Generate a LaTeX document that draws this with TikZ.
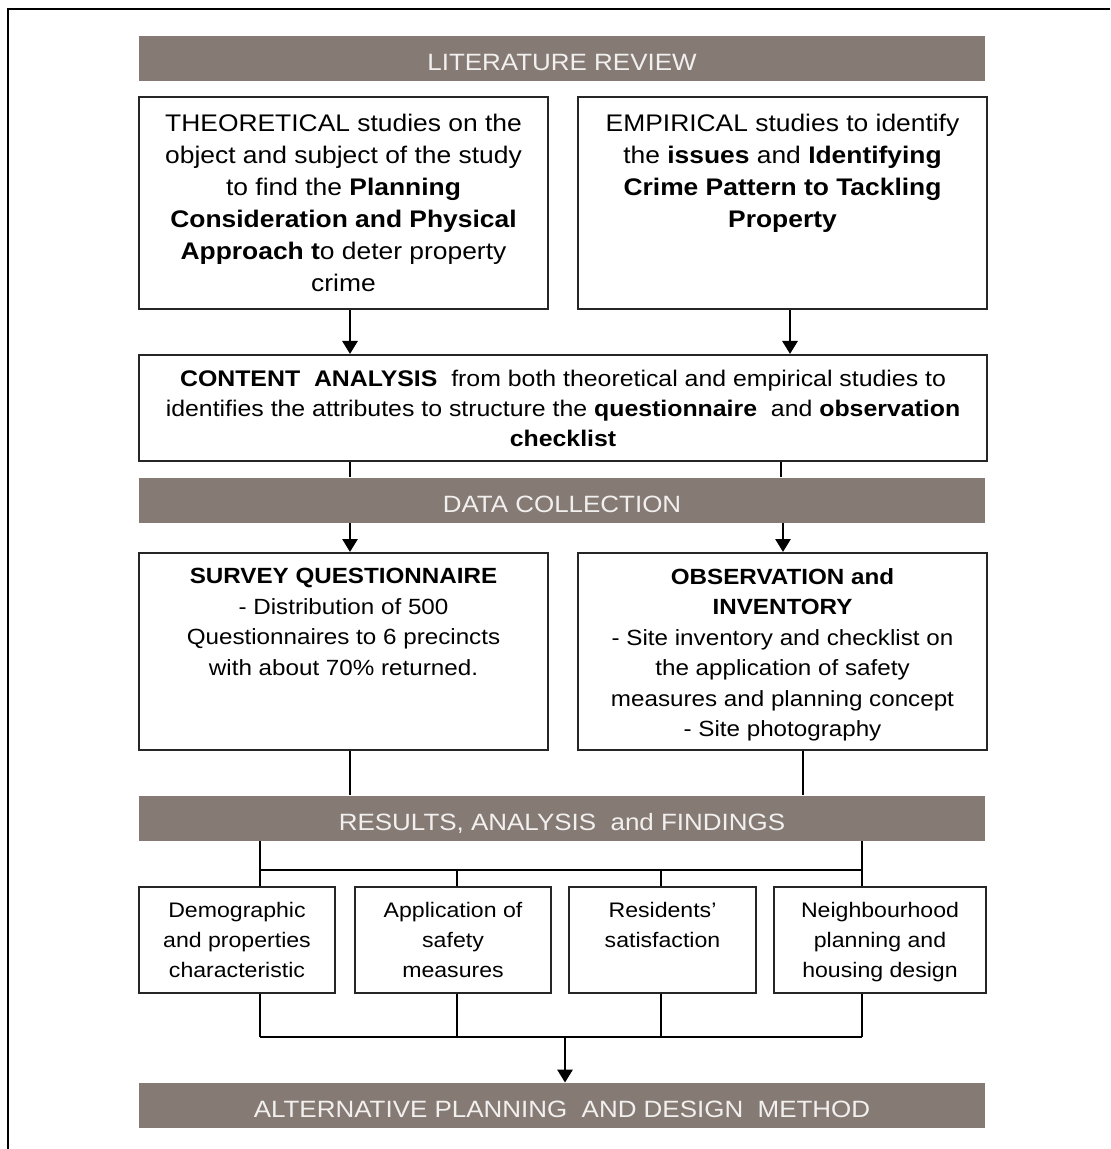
\documentclass[tikz,border=0pt]{standalone}
\usepackage{fontspec}
\setmainfont{Liberation Sans}[FakeStretch=1.1]
\usetikzlibrary{arrows.meta,calc}
\definecolor{bannergray}{HTML}{857A74}
\definecolor{bannertext}{HTML}{F2F0EF}
\newcommand\bigpanel{\fontsize{12}{16}\selectfont}
\newcommand\midpanel{\fontsize{11}{15.25}\selectfont}
\newcommand\smallpanel{\fontsize{10.5}{15}\selectfont}
\tikzset{
  banner/.style={fill=bannergray, text=bannertext, minimum width=423pt, minimum height=22.5pt, inner sep=0pt,
                 text height=12.4pt, text depth=0pt, font=\fontsize{11.8}{14}\selectfont},
  panel/.style={draw=black!85, line width=1pt, inner sep=0pt},
  toptext/.style={anchor=north, align=center, inner sep=0pt, yshift=#1},
  link/.style={line width=1.4pt},
}

\begin{document}
\begin{tikzpicture}[x=0.5pt, y=-0.5pt, >={Triangle[width=7.5pt,length=6.5pt]}]
            \useasboundingbox (0,0) rectangle (1110,1149);
            \draw[line width=1.3pt] (8,1149) -- (8,9) -- (1110,9);

            \node[banner] (litrev) at (562,58.5) {LITERATURE REVIEW};
            \node[banner] (datacol) at (562,500) {DATA COLLECTION};
            \node[banner] (results) at (562,818) {RESULTS, ANALYSIS\ \ and FINDINGS};
            \node[banner] (altmethod) at (562,1105.5) {ALTERNATIVE PLANNING\ \ AND DESIGN\ \ METHOD};

            \node[panel, minimum width=204.5pt, minimum height=106pt,
                  label={[toptext=-9pt, font=\bigpanel]north:{THEORETICAL studies on the\\object and subject of the study\\to find the \textbf{Planning}\\\textbf{Consideration and Physical}\\\textbf{Approach t}o deter property\\crime}}] (theory) at (343.5,203) {};
            \node[panel, minimum width=204.5pt, minimum height=106pt,
                  label={[toptext=-9pt, font=\bigpanel]north:{EMPIRICAL studies to identify\\the \textbf{issues} and \textbf{Identifying}\\\textbf{Crime Pattern to Tackling}\\\textbf{Property}}}] (empirical) at (782.5,203) {};

            \node[panel, minimum width=424pt, minimum height=53pt, align=center, font=\fontsize{11.3}{15}\selectfont] (content) at (563,408)
                  {\textbf{CONTENT\ \ ANALYSIS}\ \ from both theoretical and empirical studies to\\identifies the attributes to structure the \textbf{questionnaire}\ \ and \textbf{observation}\\\textbf{checklist}};

            \node[panel, minimum width=204.5pt, minimum height=98.5pt,
                  label={[toptext=-8pt, font=\midpanel]north:{\textbf{SURVEY QUESTIONNAIRE}\\- Distribution of 500\\Questionnaires to 6 precincts\\with about 70\% returned.}}] (survey) at (343.5,651.5) {};
            \node[panel, minimum width=204.5pt, minimum height=98.5pt,
                  label={[toptext=-8pt, font=\midpanel]north:{\textbf{OBSERVATION and}\\\textbf{INVENTORY}\\- Site inventory and checklist on\\the application of safety\\measures and planning concept\\- Site photography}}] (observe) at (782.5,651.5) {};

            \node[panel, minimum width=98pt, minimum height=53pt,
                  label={[toptext=-8pt, font=\smallpanel]north:{Demographic\\and properties\\characteristic}}] (demog) at (237,940) {};
            \node[panel, minimum width=98pt, minimum height=53pt,
                  label={[toptext=-8pt, font=\smallpanel]north:{Application of\\safety\\measures}}] (safety) at (453,940) {};
            \node[panel, minimum width=93.5pt, minimum height=53pt,
                  label={[toptext=-8pt, font=\smallpanel]north:{Residents'\\satisfaction}}] (resident) at (662.5,940) {};
            \node[panel, minimum width=106pt, minimum height=53pt,
                  label={[toptext=-8pt, font=\smallpanel]north:{Neighbourhood\\planning and\\housing design}}] (neigh) at (880,940) {};

            \draw[->, link] (theory.south -| 350,0) -- (content.north -| 350,0);
            \draw[->, link] (empirical.south -| 790,0) -- (content.north -| 790,0);
            \draw[link] (content.south -| 350,0) -- (datacol.north -| 350,0);
            \draw[link] (content.south -| 781,0) -- (datacol.north -| 781,0);
            \draw[->, link] (datacol.south -| 350,0) -- (survey.north -| 350,0);
            \draw[->, link] (datacol.south -| 783,0) -- (observe.north -| 783,0);
            \draw[link] (survey.south -| 350,0) -- (results.north -| 350,0);
            \draw[link] (observe.south -| 803,0) -- (results.north -| 803,0);

            \draw[link] (results.south -| 260,0) |- (862,870) -- (results.south -| 862,0);
            \foreach \x/\n in {260/demog,457/safety,661/resident,862/neigh}{
                \draw[link] (\x,870) -- (\n.north -| \x,0);
                \draw[link] (\n.south -| \x,0) -- (\x,1037);
            }
            \draw[link] (260,1037) -- (862,1037);
            \draw[->, link] (565,1037) -- (altmethod.north -| 565,0);

        \end{tikzpicture}
\end{document}
